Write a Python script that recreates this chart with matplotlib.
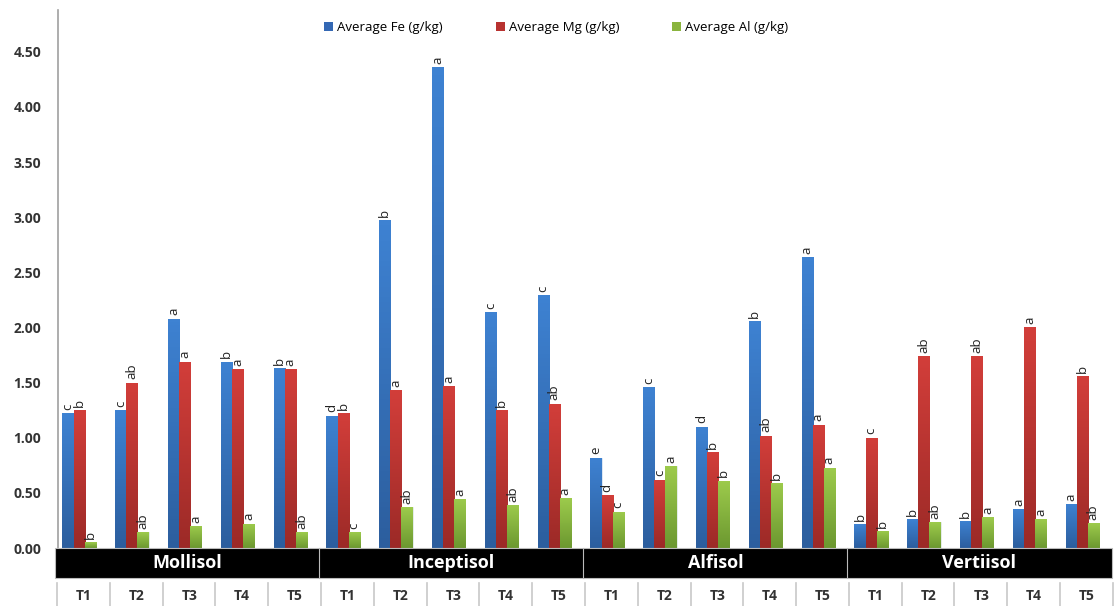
import numpy as np
import matplotlib
matplotlib.use('Agg')
import matplotlib.pyplot as plt
from matplotlib.patches import Rectangle, Patch
from matplotlib.colors import LinearSegmentedColormap
import matplotlib.transforms as mtransforms

plt.rcParams['font.family'] = ['Open Sans', 'DejaVu Sans']

# ---------------------------------------------------------------------------
# Data
# ---------------------------------------------------------------------------
soils = ['Mollisol', 'Inceptisol', 'Alfisol', 'Vertiisol']
treatments = ['T1', 'T2', 'T3', 'T4', 'T5']
series = ['Average Fe (g/kg)', 'Average Mg (g/kg)', 'Average Al (g/kg)']

fe = [1.22, 1.25, 2.08, 1.69, 1.63,
      1.20, 2.97, 4.36, 2.14, 2.29,
      0.82, 1.46, 1.10, 2.06, 2.64,
      0.215, 0.26, 0.245, 0.355, 0.40]
mg = [1.25, 1.50, 1.69, 1.62, 1.62,
      1.22, 1.43, 1.47, 1.25, 1.31,
      0.48, 0.62, 0.87, 1.02, 1.12,
      1.00, 1.74, 1.74, 2.00, 1.56]
al = [0.05, 0.145, 0.20, 0.22, 0.145,
      0.145, 0.37, 0.445, 0.39, 0.45,
      0.33, 0.745, 0.61, 0.59, 0.73,
      0.155, 0.235, 0.28, 0.26, 0.225]

fe_letters = ['c', 'c', 'a', 'b', 'b',
              'd', 'b', 'a', 'c', 'c',
              'e', 'c', 'd', 'b', 'a',
              'b', 'b', 'b', 'a', 'a']
mg_letters = ['b', 'ab', 'a', 'a', 'a',
              'b', 'a', 'a', 'b', 'ab',
              'd', 'c', 'b', 'ab', 'a',
              'c', 'ab', 'ab', 'a', 'b']
al_letters = ['b', 'ab', 'a', 'a', 'ab',
              'c', 'ab', 'a', 'ab', 'a',
              'c', 'a', 'b', 'b', 'a',
              'b', 'ab', 'a', 'a', 'ab']

yticks = [0.0, 0.5, 1.0, 1.5, 2.0, 2.5, 3.0, 3.5, 4.0, 4.5]

# gradient colours (top, bottom) per series
grad = [('#3E82D2', '#2C5E9E'),
        ('#D23E3A', '#9C2A27'),
        ('#9DCB4C', '#6C9830')]
legend_colors = ['#3468B4', '#B83230', '#8AB43E']

# ---------------------------------------------------------------------------
# Figure
# ---------------------------------------------------------------------------
fig = plt.figure(figsize=(11.15, 6.06), dpi=100)
ax = fig.add_axes([0.052, 0.0957, 0.948, 0.888])

n = len(fe)
x = np.arange(n)
w = 0.21
offsets = [-w, 0.0, w]
values = [fe, mg, al]
letters = [fe_letters, mg_letters, al_letters]

for s in range(3):
    cmap = LinearSegmentedColormap.from_list(f'g{s}', [grad[s][1], grad[s][0]])
    bars = ax.bar(x + offsets[s], values[s], width=w, color=grad[s][0],
                  edgecolor='#E8EEF6', linewidth=0.6, zorder=2)
    for b in bars:
        x0, h = b.get_x(), b.get_height()
        img = ax.imshow(np.linspace(0, 1, 64).reshape(-1, 1), cmap=cmap,
                        origin='lower', aspect='auto',
                        extent=[x0, x0 + w, 0, h], zorder=2.5)
        img.set_clip_path(b)
    for i in range(n):
        ax.text(x[i] + offsets[s], values[s][i] + 0.03, letters[s][i],
                rotation=90, ha='center', va='bottom', fontsize=9.5,
                color='#222222', zorder=4)

ax.set_xlim(-0.40, 19.62)
ax.set_ylim(0, 4.88)
ax.set_yticks(yticks)
ax.set_yticklabels([f'{v:.2f}' for v in yticks], fontsize=10,
                   fontweight='bold', color='#333333')
ax.tick_params(axis='y', length=0, pad=12)
ax.set_xticks([])
for sp in ['top', 'right', 'bottom']:
    ax.spines[sp].set_visible(False)
ax.spines['left'].set_color('#A0A0A0')
ax.spines['left'].set_linewidth(1.2)

# category boxes and treatment labels below the axis
trans = mtransforms.blended_transform_factory(ax.transData, ax.transAxes)
px = 1 / 538  # one pixel in axes fraction
box_h = 30 * px
for k, soil in enumerate(soils):
    left = 5 * k - 0.46
    right = 5 * k + 4.56
    ax.add_patch(Rectangle((left, -box_h), right - left, box_h,
                           transform=trans, facecolor='black',
                           edgecolor='#BBBBBB', linewidth=0.8,
                           clip_on=False, zorder=3))
    ax.text((left + right) / 2, -box_h / 2, soil, transform=trans,
            ha='center', va='center', color='white', fontsize=13,
            fontweight='bold', zorder=4)

for j in range(n):
    ax.text(j + 0.09, -48 * px, treatments[j % 5], transform=trans,
            ha='center', va='center', fontsize=10, fontweight='bold',
            color='#333333')
for j in range(n + 1):
    ax.plot([j - 0.42, j - 0.42], [-35 * px, -58 * px], transform=trans,
            color='#C8C8C8', linewidth=1.2, clip_on=False)

handles = [Patch(facecolor=c, edgecolor='none') for c in legend_colors]
fig.legend(handles, series, loc='center', bbox_to_anchor=(0.499, 0.954),
           ncol=3, frameon=False, fontsize=9.5, handlelength=0.7,
           handleheight=0.7, handletextpad=0.3, columnspacing=4.0)

fig.savefig('out.png', dpi=100)
